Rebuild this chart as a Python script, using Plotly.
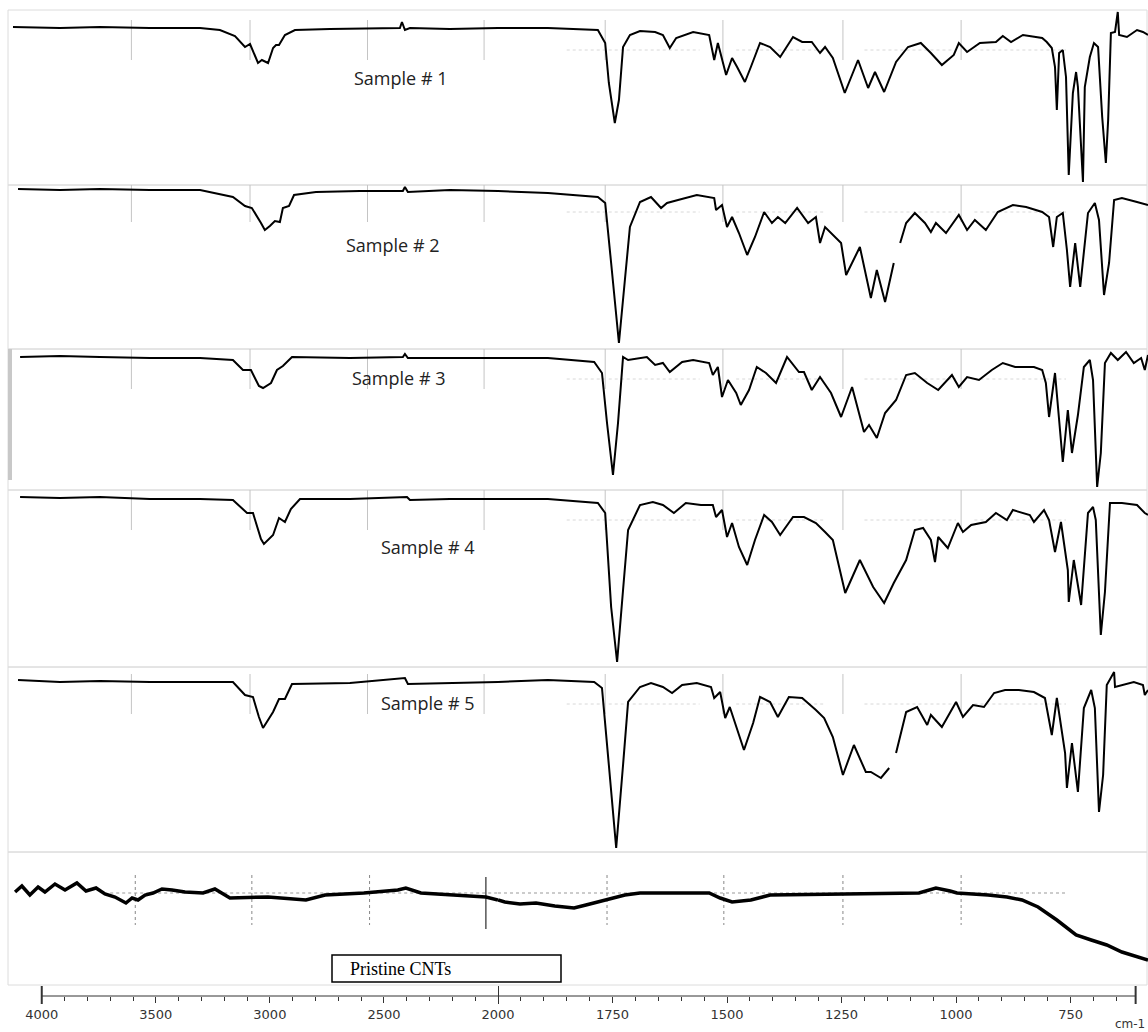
import plotly.graph_objects as go

# ---------------- data (wavenumber cm-1, transmittance a.u.) ----------------
s1_wn = [4126, 3920, 3745, 3526, 3306, 3219, 3153, 3109, 3087, 3052, 3035, 3008, 2986, 2973, 2960, 2934, 2890, 2737, 2430, 2421, 2408, 2386, 2211, 2035, 2000,
         1891, 1782, 1766, 1758, 1745, 1736, 1727, 1712, 1690, 1657, 1640, 1625, 1611, 1574, 1539, 1528, 1520, 1502, 1489, 1478, 1461, 1448, 1428, 1406, 1384,
         1356, 1336, 1315, 1297, 1286, 1269, 1243, 1214, 1192, 1177, 1157, 1131, 1105, 1077, 1055, 1031, 1005, 994, 976, 948, 913, 898, 880, 854, 812, 802,
         791, 784, 780, 775, 767, 760, 754, 745, 738, 734, 723, 719, 708, 699, 690, 681, 673, 668, 662, 653, 647, 644, 627, 605, 592, 581]
s1_t = [101, 100, 101, 100, 100, 98, 92, 81, 84, 65, 68, 65, 80, 83, 83, 93, 98, 99, 100, 106, 98, 100, 99, 100, 100,
        100, 98, 85, 45, 5, 28, 81, 93, 97, 96, 93, 80, 90, 96, 93, 68, 85, 53, 70, 61, 46, 61, 85, 81, 71,
        91, 86, 86, 75, 81, 70, 35, 68, 40, 56, 36, 66, 81, 85, 75, 63, 73, 85, 76, 85, 86, 92, 86, 93, 90, 86,
        80, 61, 18, 75, 78, 51, -47, 35, 56, 41, -54, 41, 71, 85, 81, 11, -35, 8, 95, 96, 116, 93, 91, 98, 96, 93]

s2_wn = [4104, 3920, 3745, 3526, 3306, 3162, 3109, 3079, 3039, 3022, 3000, 2978, 2956, 2943, 2916, 2894, 2798, 2605, 2417, 2408, 2395, 2211, 2000,
         1891, 1782, 1766, 1753, 1736, 1723, 1712, 1690, 1666, 1644, 1631, 1607, 1566, 1528, 1524, 1511, 1500, 1489, 1474, 1456, 1439, 1419, 1402, 1389,
         1373, 1347, 1323, 1306, 1297, 1286, 1251, 1240, 1210, 1186, 1173, 1155, 1136, None, 1122, 1109, 1090, 1068, 1055, 1044, 1022, 994, 976, 959, 935,
         909, 876, 847, 812, 797, 788, 780, 767, 758, 751, 740, 729, 712, 697, 688, 677, 666, 655, 638, 605, 581]
s2_t = [101, 100, 101, 100, 100, 93, 84, 82, 67, 60, 64, 69, 68, 82, 84, 95, 98, 99, 99, 103, 98, 100, 99,
        97, 93, 87, 27, -53, 10, 63, 88, 93, 82, 87, 90, 95, 92, 80, 85, 63, 73, 57, 35, 53, 78, 67, 73,
        67, 82, 67, 73, 47, 63, 47, 15, 43, -8, 20, -12, 27, None, 47, 67, 77, 67, 58, 67, 57, 75, 60, 70, 60,
        78, 85, 83, 78, 73, 43, 73, 77, 40, 3, 47, 3, 77, 87, 70, -5, 27, 90, 92, 88, 85]

s3_wn = [4095, 3920, 3745, 3526, 3306, 3162, 3118, 3083, 3048, 3030, 2995, 2969, 2943, 2903, 2649, 2417, 2408, 2395, 2211, 2000,
         1891, 1790, 1773, 1762, 1749, 1738, 1727, 1716, 1675, 1657, 1640, 1625, 1598, 1574, 1539, 1531, 1520, 1511, 1498, 1480, 1470, 1452, 1435,
         1415, 1393, 1369, 1343, 1332, 1315, 1297, 1273, 1251, 1227, 1201, 1190, 1173, 1155, 1131, 1109, 1090, 1063, 1039, 1009, 994, 976, 950, 922,
         898, 871, 830, 812, 804, 797, 784, 767, 756, 747, 734, 721, 708, 701, 692, 684, 675, 662, 647, 629, 612, 596, 588, 581]
s3_t = [100, 101, 100, 99, 99, 97, 87, 87, 71, 69, 74, 87, 91, 100, 99, 100, 103, 99, 99, 99,
        99, 95, 84, 34, -18, 34, 100, 97, 100, 92, 94, 85, 95, 97, 94, 82, 90, 60, 77, 64, 52, 67, 90,
        84, 74, 100, 85, 85, 67, 80, 64, 40, 70, 25, 32, 19, 44, 57, 82, 84, 74, 67, 82, 70, 80, 77, 87,
        94, 90, 90, 87, 74, 40, 84, -5, 47, 4, 42, 90, 97, 77, -30, 4, 94, 104, 97, 105, 94, 99, 87, 102]

s4_wn = [4095, 3920, 3745, 3526, 3306, 3162, 3100, 3074, 3039, 3026, 2986, 2960, 2934, 2908, 2868, 2649, 2399, 2386, 2211, 2000,
         1891, 1782, 1766, 1753, 1740, 1727, 1716, 1690, 1662, 1640, 1616, 1590, 1557, 1531, 1524, 1511, 1500, 1489, 1474, 1456, 1439, 1419, 1402,
         1384, 1356, 1332, 1306, 1286, 1269, 1242, 1210, 1181, 1157, 1136, 1109, 1090, 1072, 1055, 1046, 1039, 1018, 996, 985, 967, 935, 913, 889,
         876, 839, 830, 808, 797, 784, 771, 756, 754, 743, 727, 712, 701, 695, 684, 675, 664, 638, 605, 588, 581]
s4_t = [101, 100, 101, 99, 99, 98, 85, 85, 59, 54, 63, 80, 76, 89, 99, 99, 101, 98, 99, 99,
        99, 95, 85, -9, -64, 8, 68, 93, 96, 93, 85, 95, 93, 93, 81, 88, 61, 75, 51, 33, 58, 83, 76,
        63, 81, 81, 75, 66, 58, 5, 38, 11, -5, 15, 38, 68, 70, 58, 36, 61, 50, 75, 66, 73, 76, 85, 78,
        88, 83, 76, 88, 78, 46, 76, 28, -4, 38, -7, 85, 91, 78, -37, 6, 95, 95, 93, 85, 83]

s5_wn = [4104, 3920, 3745, 3526, 3306, 3162, 3109, 3074, 3048, 3030, 2986, 2960, 2934, 2903, 2649, 2408, 2395, 2211, 2000,
         1891, 1790, 1773, 1758, 1742, 1727, 1716, 1690, 1666, 1640, 1620, 1598, 1566, 1535, 1528, 1515, 1504, 1494, 1478, 1463, 1443, 1428, 1406,
         1389, 1365, 1336, 1306, 1288, 1269, 1247, 1223, 1197, 1186, 1164, 1146, None, 1131, 1109, 1085, 1063, 1055, 1031, 1000, 985, 963, 939, 917,
         893, 863, 830, 806, 791, 780, 762, 758, 747, 734, 721, 705, 697, 688, 679, 671, 655, 653, 612, 592, 588, 581]
s5_t = [102, 100, 101, 100, 100, 100, 87, 85, 65, 54, 70, 83, 83, 98, 99, 104, 98, 99, 100,
        102, 100, 94, 17, -66, 17, 80, 95, 99, 95, 89, 97, 99, 95, 84, 90, 64, 75, 52, 32, 59, 85, 80,
        65, 85, 84, 72, 64, 45, 7, 37, 10, 10, 4, 14, None, 29, 70, 75, 57, 67, 55, 80, 65, 77, 75, 89,
        92, 92, 90, 84, 47, 84, 29, -6, 39, -10, 74, 92, 74, -30, 7, 97, 110, 95, 100, 97, 87, 92]

cnt_wn = [4117, 4087, 4052, 4016, 3986, 3942, 3898, 3846, 3806, 3762, 3723, 3679, 3631, 3604, 3578, 3547, 3512, 3473, 3429, 3372, 3293, 3241,
          3175, 3008, 2842, 2758, 2588, 2439, 2404, 2338, 2053, 2000,
          1985, 1952, 1917, 1876, 1834, 1808, 1766, 1723, 1690, 1539, 1515, 1489, 1448, 1406, 1081, 1068, 1044, 1013, 998, 930, 889, 856,
          821, 780, 738, 705, 671, 638, 605, 581]
cnt_t = [101, 107, 98, 106, 101, 109, 103, 110, 102, 105, 99, 96, 90, 95, 93, 98, 100, 104, 103, 101, 100, 104,
         95, 96, 93, 98, 100, 103, 105, 100, 96, 93,
         91, 89, 90, 87, 85, 88, 93, 98, 100, 100, 95, 91, 93, 98, 100, 102, 105, 102, 100, 98, 96, 93,
         86, 73, 58, 53, 48, 41, 36, 33]

sample_names = ["Sample # 1", "Sample # 2", "Sample # 3", "Sample # 4", "Sample # 5"]
major_hi = [4000, 3500, 3000, 2500]
major_lo = [2000, 1750, 1500, 1250, 1000, 750]
grid_wn = [3607, 3087, 2572, 2061, 1766, 1509, 1247, 989]
cnt_grid_wn = [3590, 3079, 2563, 1762, 1507, 1247, 989]
cnt_solid_wn = 2053

# ---------------- layout geometry ----------------
W, H = 1148, 1032
def py(p):  # pixel y -> paper
    return 1 - p / H
def px(p):
    return p / W

# panel pixel extents (top, bottom) and y-ranges
panels = [(10, 185, (-57, 118)), (185, 349, (-59, 105)), (349, 490, (-33, 108)),
          (490, 667, (-69, 108)), (667, 852, (-70, 115)), (852, 996, (-3, 141))]
split_px = 498

fig = go.Figure()

def split(wn, t):
    hi_x, hi_y, lo_x, lo_y = [], [], [], []
    for w, v in zip(wn, t):
        if w is not None and w >= 2000:
            hi_x.append(w); hi_y.append(v)
        if w is None or w <= 2000:
            lo_x.append(w); lo_y.append(v)
    return hi_x, hi_y, lo_x, lo_y

series = [(s1_wn, s1_t), (s2_wn, s2_t), (s3_wn, s3_t), (s4_wn, s4_t), (s5_wn, s5_t), (cnt_wn, cnt_t)]
for i, (wn, t) in enumerate(series):
    ya = "y" if i == 0 else f"y{i+1}"
    hx, hy, lx, ly = split(wn, t)
    width = 3.5 if i == 5 else 2
    fig.add_trace(go.Scatter(x=hx, y=hy, xaxis="x", yaxis=ya, mode="lines",
                             line=dict(color="black", width=width), showlegend=False, hoverinfo="skip"))
    fig.add_trace(go.Scatter(x=lx, y=ly, xaxis="x2", yaxis=ya, mode="lines",
                             line=dict(color="black", width=width), showlegend=False, hoverinfo="skip"))

layout = dict(
    width=W, height=H, margin=dict(l=0, r=0, t=0, b=0, pad=0, autoexpand=False),
    paper_bgcolor="white", plot_bgcolor="rgba(0,0,0,0)", showlegend=False,
)
minor_hi = [v for v in range(3900, 2000, -100) if v not in major_hi]
minor_lo = [v for v in range(1950, 600, -50) if v not in major_lo]
tickfont = dict(family="DejaVu Sans", size=13, color="#333")
layout["xaxis"] = dict(domain=[0, px(split_px)], range=[4183, 2000], anchor="y6", automargin=False,
                       showgrid=False, zeroline=False, showline=False,
                       tickmode="array", tickvals=major_hi, ticktext=[str(v) for v in major_hi],
                       ticks="outside", ticklen=6, tickcolor="#333", tickfont=tickfont,
                       minor=dict(tickvals=minor_hi, ticks="outside", ticklen=4, tickcolor="#333"))
layout["xaxis2"] = dict(domain=[px(split_px), 1], range=[2000, 581], anchor="y6", automargin=False,
                        showgrid=False, zeroline=False, showline=False,
                        tickmode="array", tickvals=major_lo, ticktext=[str(v) for v in major_lo],
                        ticks="outside", ticklen=6, tickcolor="#333", tickfont=tickfont,
                        minor=dict(tickvals=minor_lo, ticks="outside", ticklen=4, tickcolor="#333"))
for i, (top, bot, rng) in enumerate(panels):
    key = "yaxis" if i == 0 else f"yaxis{i+1}"
    layout[key] = dict(domain=[py(bot), py(top)], range=list(rng), visible=False, anchor="x", automargin=False)
fig.update_layout(**layout)

shapes = []
# panel frames
frames = [(10, 185), (185, 349), (349, 490), (490, 667), (667, 852), (852, 985)]
for top, bot in frames:
    shapes.append(dict(type="rect", xref="paper", yref="paper", x0=px(8), x1=px(1147), y0=py(bot), y1=py(top),
                       line=dict(color="#dcdcdc", width=1), layer="below"))
shapes.append(dict(type="line", xref="paper", yref="paper", x0=px(10), x1=px(10), y0=py(480), y1=py(349),
                   line=dict(color="#c8c8c8", width=4)))
# sample grid marks
for i in range(5):
    ya = "y" if i == 0 else f"y{i+1}"
    for g in grid_wn:
        xa = "x" if g > 2000 else "x2"
        shapes.append(dict(type="line", xref=xa, yref=ya, x0=g, x1=g, y0=108, y1=68,
                           line=dict(color="#c4c4c4", width=1), layer="below"))
    for (a, b) in [(1850, 1560), (1480, 1290), (1200, 1000), (960, 760)]:
        shapes.append(dict(type="line", xref="x2", yref=ya, x0=a, x1=b, y0=78, y1=78,
                           line=dict(color="#d8d8d8", width=1, dash="dot"), layer="below"))
# pristine grid marks
for g in cnt_grid_wn:
    xa = "x" if g > 2000 else "x2"
    shapes.append(dict(type="line", xref=xa, yref="y6", x0=g, x1=g, y0=118, y1=68,
                       line=dict(color="#888", width=1, dash="dot"), layer="below"))
shapes.append(dict(type="line", xref="x", yref="y6", x0=cnt_solid_wn, x1=cnt_solid_wn, y0=116, y1=64,
                   line=dict(color="black", width=1)))
shapes.append(dict(type="line", xref="x", yref="y6", x0=3700, x1=2000, y0=100, y1=100,
                   line=dict(color="#999", width=1, dash="dot"), layer="below"))
shapes.append(dict(type="line", xref="x2", yref="y6", x0=2000, x1=760, y0=100, y1=100,
                   line=dict(color="#999", width=1, dash="dot"), layer="below"))
# axis line and end ticks
ay = py(996)
shapes.append(dict(type="line", xref="x", yref="paper", x0=4000, x1=2000, y0=ay, y1=ay, line=dict(color="#333", width=1)))
shapes.append(dict(type="line", xref="x2", yref="paper", x0=2000, x1=608, y0=ay, y1=ay, line=dict(color="#333", width=1)))
for xa, v in [("x", 4000), ("x2", 2000), ("x2", 608)]:
    shapes.append(dict(type="line", xref=xa, yref="paper", x0=v, x1=v, y0=py(1004), y1=py(986),
                       line=dict(color="#333", width=2)))
# Pristine CNTs box
shapes.append(dict(type="rect", xref="paper", yref="paper", x0=px(332), x1=px(561), y0=py(982), y1=py(955),
                   line=dict(color="black", width=1.5), fillcolor="white"))
fig.update_layout(shapes=shapes)

ann = []
label_pos = [(400, 78), (392, 245), (398, 378), (427, 547), (427, 703)]
for name, (x, y) in zip(sample_names, label_pos):
    ann.append(dict(text=name, xref="paper", yref="paper", x=px(x), y=py(y), showarrow=False,
                    xanchor="center", yanchor="middle", font=dict(family="Open Sans", size=18, color="#222")))
ann.append(dict(text="Pristine CNTs", xref="paper", yref="paper", x=px(348), y=py(969), showarrow=False,
                xanchor="left", yanchor="middle", font=dict(family="Liberation Serif", size=18, color="black")))
ann.append(dict(text="cm-1", xref="paper", yref="paper", x=px(1130), y=py(1024), showarrow=False,
                xanchor="center", yanchor="middle", font=dict(family="DejaVu Sans", size=12, color="#333")))
fig.update_layout(annotations=ann)

fig.write_html("out.html", config={"displayModeBar": False},
               post_script="document.body.style.margin='0';")
